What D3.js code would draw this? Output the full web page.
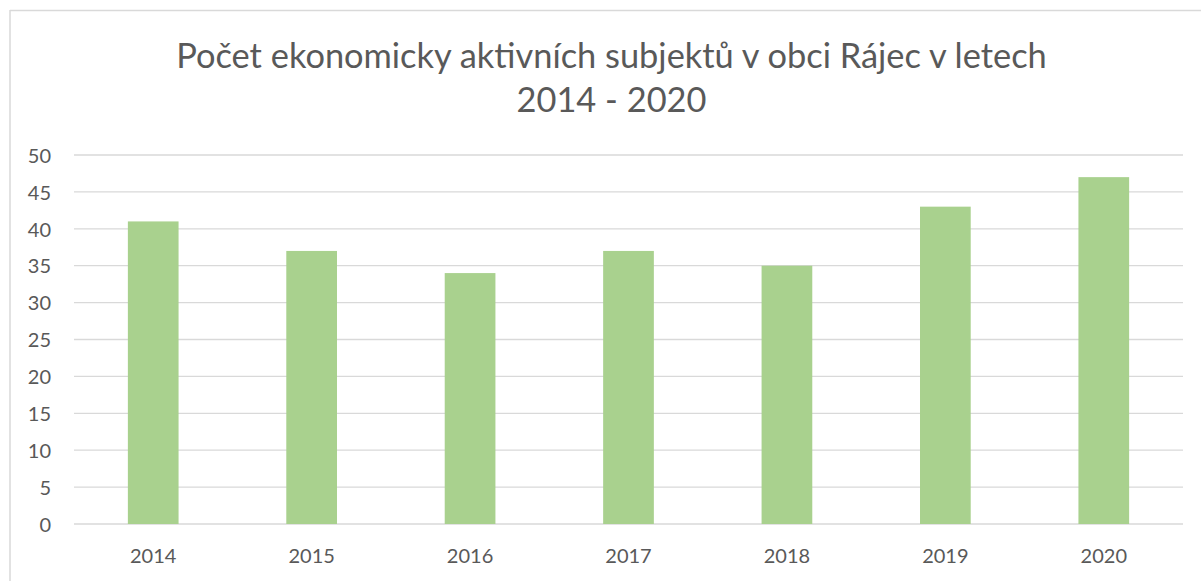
<!DOCTYPE html>
<html>
<head>
<meta charset="utf-8">
<script src="https://d3js.org/d3.v7.min.js"></script>
<style>
  body { margin: 0; background: #fff; }
  svg { display: block; }
  text { font-family: Lato, "Open Sans", sans-serif; fill: #595959; }
</style>
</head>
<body>
<script>
// data
var years = ["2014", "2015", "2016", "2017", "2018", "2019", "2020"];
var counts = [41, 37, 34, 37, 35, 43, 47];
var yTicks = [0, 5, 10, 15, 20, 25, 30, 35, 40, 45, 50];
var titleLines = ["Počet ekonomicky aktivních subjektů v obci Rájec v letech", "2014 - 2020"];

var W = 1201, H = 581;
var margin = {top: 155, right: 18, bottom: 57, left: 74};

var svg = d3.select("body").append("svg")
    .attr("width", W)
    .attr("height", H);

// chart frame (only top and left edges show in the crop)
svg.append("line").attr("x1", 10).attr("x2", W).attr("y1", 10.5).attr("y2", 10.5)
    .attr("stroke", "#d9d9d9").attr("stroke-width", 1.5);
svg.append("line").attr("x1", 10).attr("x2", 10).attr("y1", 10).attr("y2", H)
    .attr("stroke", "#d9d9d9").attr("stroke-width", 1.5);

var x = d3.scaleBand()
    .domain(years)
    .range([margin.left, W - margin.right])
    .paddingInner(0.68)
    .paddingOuter(0.34);

var y = d3.scaleLinear()
    .domain([0, 50])
    .range([H - margin.bottom, margin.top]);

// gridlines
svg.append("g")
    .selectAll("line")
    .data(yTicks)
    .enter()
    .append("line")
    .attr("x1", margin.left)
    .attr("x2", W - margin.right)
    .attr("y1", function(d) { return y(d); })
    .attr("y2", function(d) { return y(d); })
    .attr("stroke", "#d9d9d9")
    .attr("stroke-width", 1.3);

// bars
svg.append("g")
    .selectAll("rect")
    .data(counts)
    .enter()
    .append("rect")
    .attr("x", function(d, i) { return x(years[i]); })
    .attr("y", function(d) { return y(d); })
    .attr("width", x.bandwidth())
    .attr("height", function(d) { return y(0) - y(d); })
    .attr("fill", "#a9d18e");

// y axis labels
var yAxis = svg.append("g")
    .attr("transform", "translate(" + (margin.left - 23) + ",0)")
    .call(d3.axisLeft(y).tickValues(yTicks).tickSize(0).tickPadding(0));
yAxis.select(".domain").remove();
yAxis.selectAll("text")
    .attr("font-size", "20px")
    .attr("dy", "0.36em")
    .style("font-family", "Lato, 'Open Sans', sans-serif")
    .attr("fill", "#595959");

// x axis labels
var xAxis = svg.append("g")
    .attr("transform", "translate(0," + (y(0) + 25) + ")")
    .call(d3.axisBottom(x).tickSize(0).tickPadding(0));
xAxis.select(".domain").remove();
xAxis.selectAll("text")
    .attr("font-size", "20px")
    .attr("dy", "0.71em")
    .style("font-family", "Lato, 'Open Sans', sans-serif")
    .attr("fill", "#595959");

// title
var title = svg.append("g");
title.selectAll("text")
    .data(titleLines)
    .enter()
    .append("text")
    .attr("x", 611.5)
    .attr("y", function(d, i) { return 68 + i * 44; })
    .attr("text-anchor", "middle")
    .attr("font-size", "31px")
    .text(function(d) { return d; });

// fit title width to the picture (~871px for the first line)
var t0 = title.select("text").node();
var w0 = t0.getComputedTextLength();
var fs = 31 * 871 / w0;
title.selectAll("text").attr("font-size", fs + "px");
</script>
</body>
</html>
